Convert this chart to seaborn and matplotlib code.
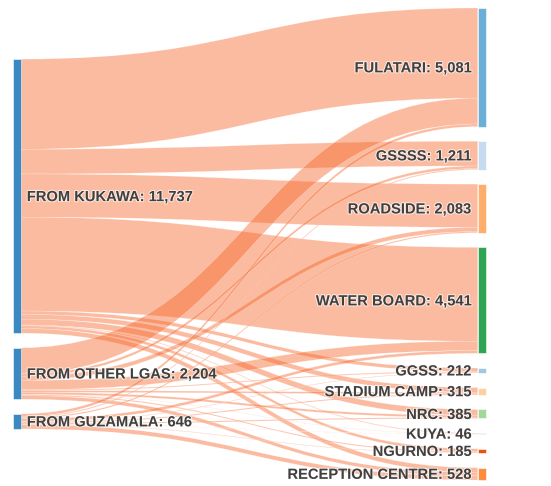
import numpy as np
import matplotlib
matplotlib.use('Agg')
import matplotlib.pyplot as plt
import seaborn as sns
from matplotlib.path import Path
from matplotlib.patches import PathPatch, Rectangle
import matplotlib.patheffects as pe

# Node names
sources = ["FROM KUKAWA", "FROM OTHER LGAS", "FROM GUZAMALA"]
targets = ["FULATARI", "GSSSS", "ROADSIDE", "WATER BOARD", "GGSS",
           "STADIUM CAMP", "NRC", "KUYA", "NGURNO", "RECEPTION CENTRE"]

# Flows from each source to each target (same order as targets)
from_kukawa = [3860, 1060, 1850, 4020, 150, 200, 250, 30, 120, 197]
from_other = [1109, 110, 180, 400, 40, 70, 90, 10, 44, 151]
from_guzamala = [112, 41, 53, 121, 22, 45, 45, 6, 21, 180]

# tab20c-style node colours
pal = sns.color_palette("tab20c", 20)
source_color = pal[0]
target_colors = [pal[1], pal[3], pal[6], pal[8], pal[2],
                 pal[7], pal[10], pal[10], pal[4], pal[5]]

sns.set_theme(style="white")
plt.rcParams['font.family'] = ['Liberation Sans', 'DejaVu Sans']

flows = np.array([from_kukawa, from_other, from_guzamala], dtype=float)
src_tot = flows.sum(axis=1)
tgt_tot = flows.sum(axis=0)

W, H = 551, 486
fig = plt.figure(figsize=(W / 100, H / 100), dpi=100)
ax = fig.add_axes([0, 0, 1, 1])
ax.set_xlim(0, W)
ax.set_ylim(H, 0)
ax.axis('off')

# layout
top, bottom = 8, 480
pad = 14.6
node_w = 8.3
x_src, x_tgt = 12.5, 477.7
k = (bottom - top - pad * (len(targets) - 1)) / tgt_tot.sum()

tgt_top = []
y = top
for v in tgt_tot:
    tgt_top.append(y)
    y += v * k + pad

src_span = src_tot.sum() * k + pad * (len(sources) - 1)
src_top = []
y = (top + bottom) / 2 - src_span / 2
for v in src_tot:
    src_top.append(y)
    y += v * k + pad

# links
link_color = "#f8682c"
x0 = x_src + node_w
x1 = x_tgt
xm = (x0 + x1) / 2
src_off = list(src_top)
tgt_off = list(tgt_top)
for i in range(len(sources)):
    for j in range(len(targets)):
        h = flows[i, j] * k
        a0, a1 = src_off[i], tgt_off[j]
        b0, b1 = a0 + h, a1 + h
        src_off[i] += h
        tgt_off[j] += h
        verts = [(x0, a0), (xm, a0), (xm, a1), (x1, a1),
                 (x1, b1), (xm, b1), (xm, b0), (x0, b0), (x0, a0)]
        codes = [Path.MOVETO, Path.CURVE4, Path.CURVE4, Path.CURVE4,
                 Path.LINETO, Path.CURVE4, Path.CURVE4, Path.CURVE4,
                 Path.CLOSEPOLY]
        ax.add_patch(PathPatch(Path(verts, codes), facecolor=link_color,
                               alpha=0.45, edgecolor='white', lw=0.3))

# nodes and labels
halo = [pe.withStroke(linewidth=1.5, foreground='white', alpha=0.7)]
for name, v, t in zip(sources, src_tot, src_top):
    ax.add_patch(Rectangle((x_src, t), node_w, v * k, facecolor=source_color,
                           alpha=0.95, edgecolor='white', lw=0.4))
    ax.text(x_src + node_w + 6, t + v * k / 2 + 1, f"{name}: {int(v):,}",
            ha='left', va='center', fontsize=10.6, fontweight='bold',
            color='#404040', path_effects=halo)

for name, v, t, c in zip(targets, tgt_tot, tgt_top, target_colors):
    ax.add_patch(Rectangle((x_tgt, t), node_w, max(v * k, 1), facecolor=c,
                           edgecolor='white', lw=0.4))
    ax.text(x_tgt - 6, t + v * k / 2 + 1, f"{name}: {int(v):,}",
            ha='right', va='center', fontsize=10.6, fontweight='bold',
            color='#404040', path_effects=halo)

fig.savefig("out.png", dpi=100)
